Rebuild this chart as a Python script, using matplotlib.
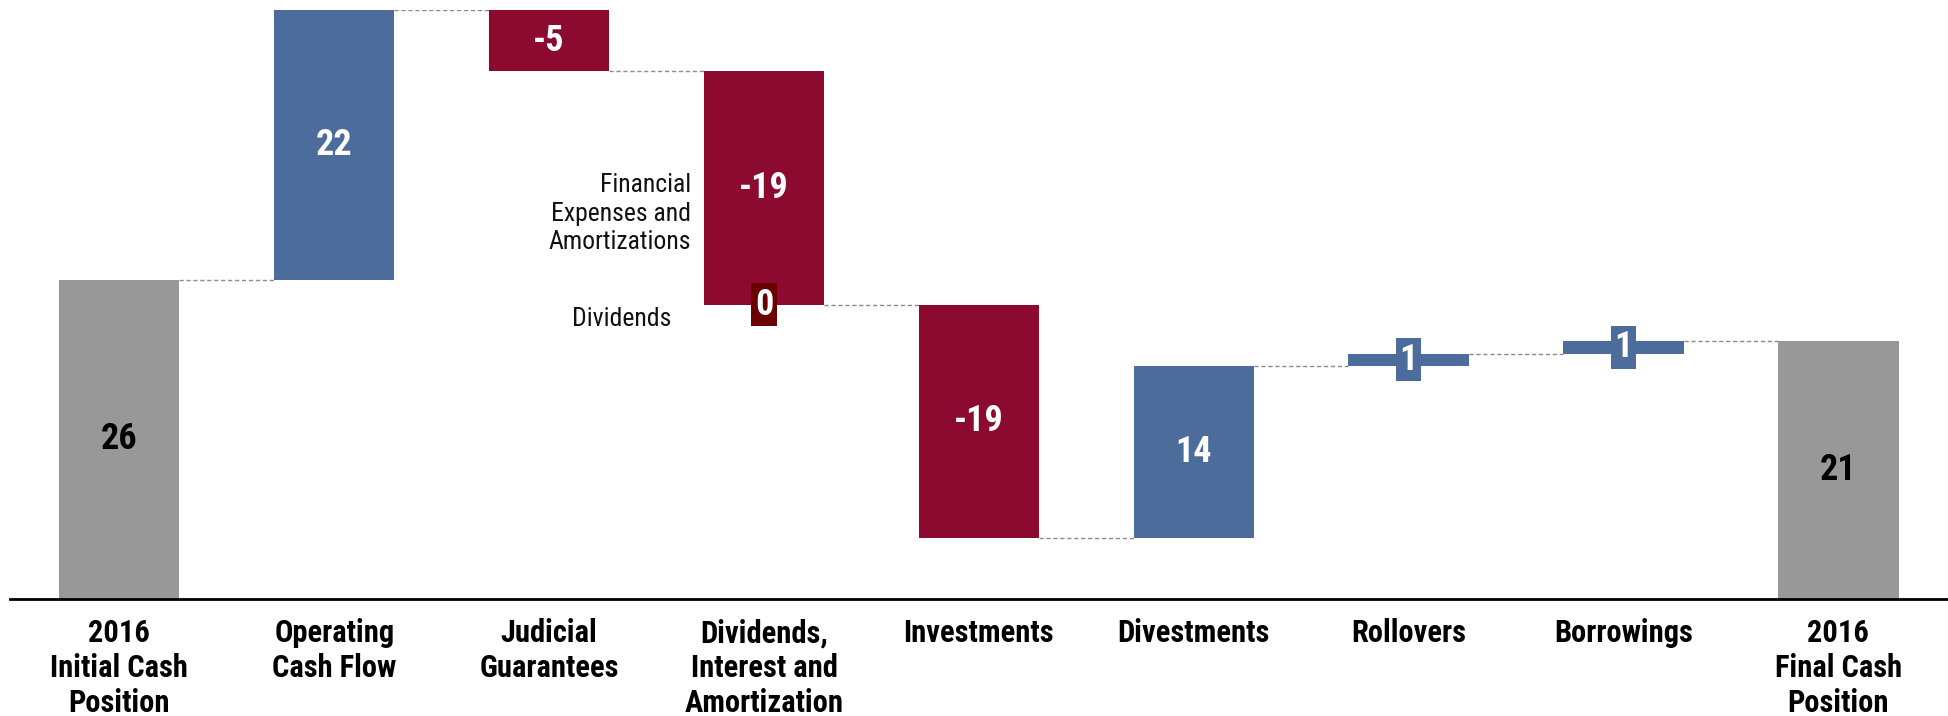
import numpy as np
import matplotlib.pyplot as plt
from matplotlib import font_manager

# fluxo de caixa 2016 (R$ bilhões)
categories = ['2016\nInitial Cash\nPosition', 'Operating\nCash Flow', 'Judicial\nGuarantees',
              'Dividends,\nInterest and\nAmortization', 'Investments', 'Divestments',
              'Rollovers', 'Borrowings', '2016\nFinal Cash\nPosition']
initial_cash = 26
changes = [22, -5, -19, -19, 14, 1, 1]
final_cash = 21
dividends = 0

blue = '#4c6c9b'
red = '#8c0a2f'
grey = '#989898'
dark_red = '#6b0000'

# fonte estreita, se houver
names = {f.name for f in font_manager.fontManager.ttflist}
font = 'DejaVu Sans'
for cand in ['Roboto Condensed', 'Liberation Sans Narrow', 'Roboto']:
    if cand in names:
        font = cand
        break
plt.rcParams['font.family'] = [font, 'DejaVu Sans']

levels = initial_cash + np.cumsum(changes)
starts = np.concatenate([[initial_cash], levels[:-1]])
x = np.arange(len(categories))
w = 0.56
vsize = 26

fig = plt.figure(figsize=(19.48, 7.16), dpi=100)
ax = fig.add_axes([0.005, 0.1634, 0.995, 0.8226])

# totais em cinza
ax.bar(x[0], initial_cash, w, color=grey)
ax.bar(x[-1], final_cash, w, color=grey)
ax.text(x[0], initial_cash / 2, str(initial_cash), ha='center', va='center',
        fontsize=vsize, fontweight='bold', color='black')
ax.text(x[-1], final_cash / 2, str(final_cash), ha='center', va='center',
        fontsize=vsize, fontweight='bold', color='black')

# variações
for i, (s, c) in enumerate(zip(starts, changes)):
    color = blue if c > 0 else red
    ax.bar(x[i + 1], c, w, bottom=s, color=color)
    ax.text(x[i + 1], s + c / 2, str(c), ha='center', va='center',
            fontsize=vsize, fontweight='bold', color='white',
            bbox=dict(boxstyle='square,pad=0.1', fc=color, ec='none'))

# dividendos (zero) na base da barra de despesas financeiras
ax.text(x[3], levels[2] + dividends, str(dividends), ha='center', va='center',
        fontsize=vsize, fontweight='bold', color='white',
        bbox=dict(boxstyle='square,pad=0.1', fc=dark_red, ec='none'))
ax.text(x[3] - w / 2 - 0.06, 31.4, 'Financial\nExpenses and\nAmortizations',
        ha='right', va='center', fontsize=18.5, color='#111111', linespacing=1.25)
ax.text(x[3] - w / 2 - 0.15, 22.8, 'Dividends', ha='right', va='center',
        fontsize=18.5, color='#111111')

# linhas tracejadas entre as barras
tops = np.concatenate([[initial_cash], levels])
for i, lvl in enumerate(tops):
    ax.plot([x[i] + w / 2, x[i + 1] - w / 2], [lvl, lvl], ls='--', lw=1,
            color='#8a8a8a', dashes=(3, 2))

ax.set_xlim(-0.51, 8.51)
ax.set_ylim(0, 48)
ax.set_yticks([])
ax.set_xticks(x, categories, fontsize=22, fontweight='bold', linespacing=1.2)
ax.tick_params(axis='x', length=0, pad=14)
for sp in ['top', 'left', 'right']:
    ax.spines[sp].set_visible(False)
ax.spines['bottom'].set_linewidth(2)
ax.spines['bottom'].set_color('black')

fig.savefig('out.png', dpi=100)
